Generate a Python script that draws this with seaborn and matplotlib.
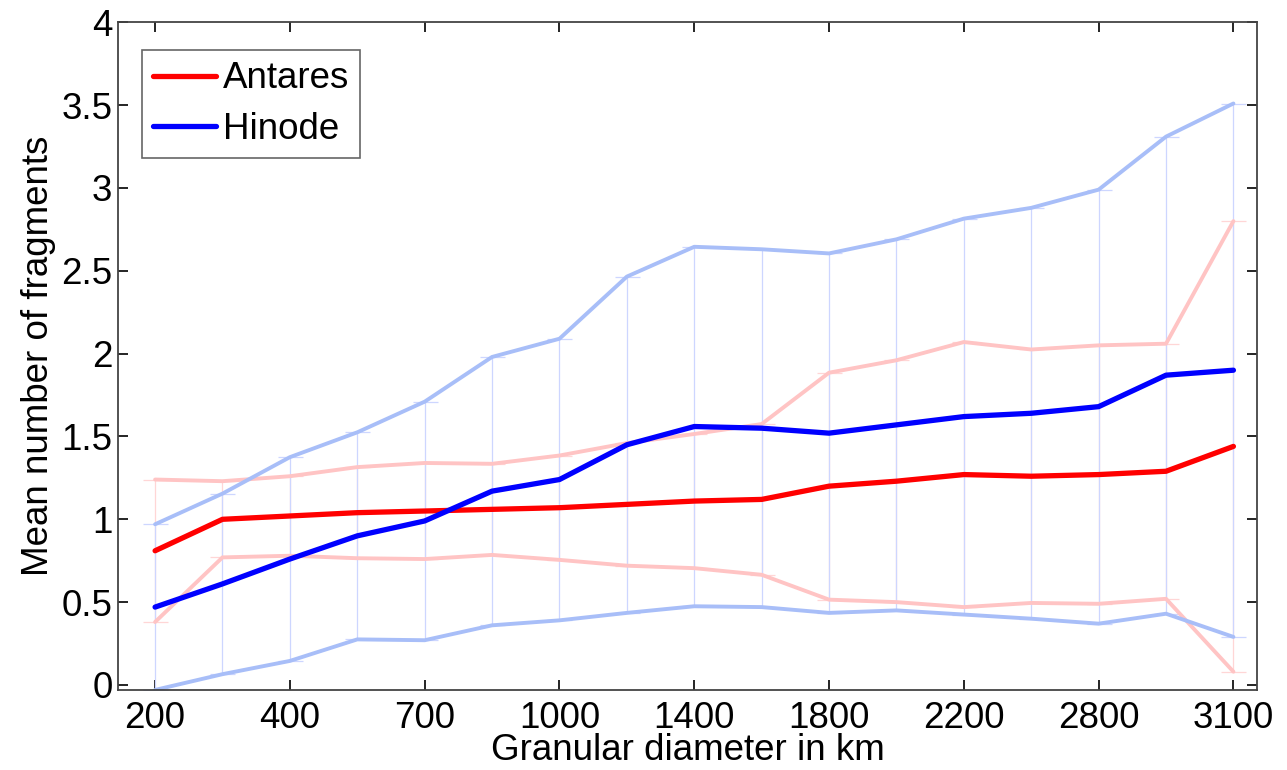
import numpy as np
import matplotlib.pyplot as plt
import seaborn as sns

# diameter bins (17 bins, only every other one is labelled)
tick_labels = ['200', '400', '700', '1000', '1400', '1800', '2200', '2800', '3100']
n_bins = 17

antares_mean = [0.81, 1.00, 1.02, 1.04, 1.05, 1.06, 1.07, 1.09, 1.11, 1.12,
                1.20, 1.23, 1.27, 1.26, 1.27, 1.29, 1.44]
antares_std = [0.43, 0.23, 0.24, 0.275, 0.29, 0.275, 0.315, 0.37, 0.405, 0.455,
               0.685, 0.73, 0.80, 0.765, 0.78, 0.77, 1.36]
hinode_mean = [0.47, 0.61, 0.76, 0.90, 0.99, 1.17, 1.24, 1.45, 1.56, 1.55,
               1.52, 1.57, 1.62, 1.64, 1.68, 1.87, 1.90]
hinode_std = [0.50, 0.545, 0.615, 0.625, 0.72, 0.81, 0.85, 1.015, 1.085, 1.08,
              1.085, 1.12, 1.195, 1.24, 1.31, 1.44, 1.61]

sns.set_style('ticks')
plt.rcParams['font.family'] = ['Liberation Sans', 'DejaVu Sans']
plt.rcParams['text.color'] = 'black'
plt.rcParams['axes.labelcolor'] = 'black'
plt.rcParams['xtick.color'] = 'black'
plt.rcParams['ytick.color'] = 'black'

fs = 26.5

fig, ax = plt.subplots(figsize=(12.87, 7.7), dpi=100)
fig.subplots_adjust(left=0.0917, right=0.9767, top=0.971, bottom=0.104)

x = np.arange(n_bins)
series = [('Antares', antares_mean, antares_std, '#ff0000', '#ffc4c4', '#ffd6d6'),
          ('Hinode', hinode_mean, hinode_std, '#0000ff', '#a8bef8', '#cdd6ff')]

# error bars and +/- std envelopes
for name, m, s, c, light, bar in series:
    m = np.array(m)
    s = np.array(s)
    ax.errorbar(x, m, yerr=s, fmt='none', ecolor=bar, elinewidth=0.9,
                capsize=9, capthick=0.9, zorder=1)
    sns.lineplot(x=x, y=m + s, color=light, linewidth=2.8, ax=ax, zorder=2)
    sns.lineplot(x=x, y=m - s, color=light, linewidth=2.8, ax=ax, zorder=2)

# mean curves
for name, m, s, c, light, bar in series:
    sns.lineplot(x=x, y=m, color=c, linewidth=3.8, label=name, ax=ax, zorder=3)

ax.set_xlim(-0.55, 16.35)
ax.set_ylim(-0.03, 4)
ax.set_xticks(x[::2])
ax.set_xticklabels(tick_labels)
ax.set_yticks(np.arange(0, 4.01, 0.5))
ax.set_yticklabels(['0', '0.5', '1', '1.5', '2', '2.5', '3', '3.5', '4'])
ax.tick_params(direction='in', length=7, width=1.2, labelsize=fs,
               top=True, right=True)
ax.tick_params(axis='y', pad=4)
ax.tick_params(axis='x', pad=8)
for sp in ax.spines.values():
    sp.set_visible(True)
    sp.set_color('#444444')
    sp.set_linewidth(1.3)

ax.set_xlabel('Granular diameter in km', fontsize=fs, labelpad=-2)
ax.set_ylabel('Mean number of fragments', fontsize=fs, labelpad=4)

leg = ax.legend(loc='upper left', fontsize=fs, fancybox=False, edgecolor='#666666',
                handlelength=1.72, handletextpad=0.18, borderpad=0.3, labelspacing=0.42,
                borderaxespad=0, bbox_to_anchor=(0.021, 0.958), framealpha=1)
leg.get_frame().set_linewidth(1.2)

fig.savefig('out.png', dpi=100)
